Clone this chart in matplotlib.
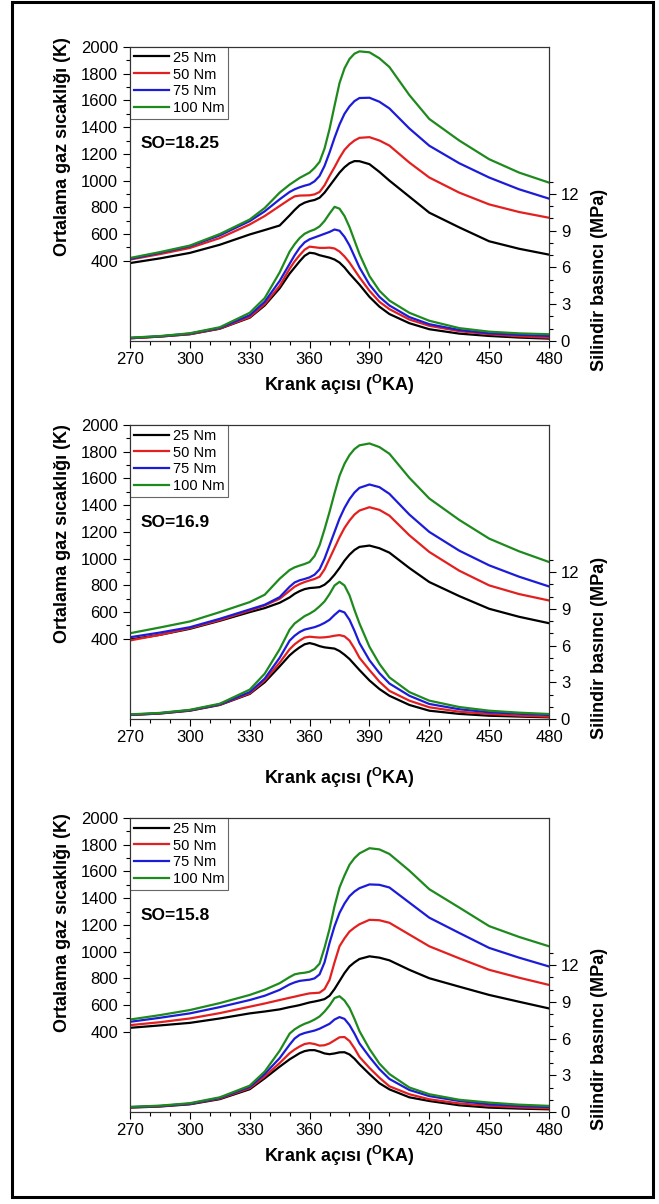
import matplotlib
matplotlib.use('Agg')
import matplotlib.pyplot as plt
from matplotlib.patches import Rectangle
from matplotlib.ticker import MultipleLocator, FixedLocator

plt.rcParams['font.family'] = ['Liberation Sans', 'DejaVu Sans']
plt.rcParams['mathtext.fontset'] = 'custom'
plt.rcParams['mathtext.rm'] = 'Liberation Sans'
plt.rcParams['mathtext.bf'] = 'Liberation Sans:bold'

# crank angle (deg KA)
crank = [270, 285, 300, 315, 330, 337.5, 345, 350, 352.5, 355, 357.5, 360,
         362.5, 365, 367.5, 370, 372.5, 375, 377.5, 380, 382.5, 385, 390,
         395, 400, 410, 420, 435, 450, 465, 480]

loads = ['25 Nm', '50 Nm', '75 Nm', '100 Nm']
so_labels = ['SO=18.25', 'SO=16.9', 'SO=15.8']

# mean gas temperature (K), one list per load: 25, 50, 75, 100 Nm
temp_1825 = [
    [383, 418, 459, 520, 597, 630, 664, 740, 780, 815, 835, 847, 855, 872, 910, 960, 1010, 1060, 1100, 1130, 1146, 1145, 1123, 1065, 1000, 880, 760, 650, 546, 490, 446],
    [409, 450, 496, 570, 672, 735, 810, 860, 882, 888, 889, 890, 897, 915, 965, 1035, 1100, 1170, 1230, 1270, 1300, 1320, 1325, 1300, 1262, 1135, 1023, 910, 822, 765, 722],
    [414, 460, 509, 590, 697, 770, 860, 915, 935, 950, 962, 972, 995, 1035, 1110, 1210, 1320, 1420, 1500, 1555, 1595, 1618, 1620, 1590, 1540, 1390, 1261, 1130, 1023, 935, 865],
    [421, 465, 514, 600, 709, 795, 910, 970, 995, 1020, 1040, 1060, 1095, 1140, 1240, 1386, 1560, 1730, 1840, 1910, 1950, 1967, 1960, 1915, 1850, 1640, 1461, 1300, 1160, 1060, 985],
]
temp_169 = [
    [395, 430, 475, 535, 600, 630, 670, 710, 737, 757, 772, 780, 783, 787, 805, 837, 880, 930, 985, 1030, 1065, 1088, 1098, 1078, 1045, 930, 825, 720, 625, 565, 517],
    [388, 430, 480, 540, 612, 650, 700, 760, 790, 810, 825, 837, 848, 865, 920, 1000, 1080, 1160, 1230, 1285, 1330, 1360, 1385, 1365, 1322, 1175, 1050, 910, 800, 735, 687],
    [412, 447, 487, 550, 620, 655, 712, 790, 822, 838, 848, 860, 880, 920, 1000, 1100, 1200, 1300, 1380, 1445, 1495, 1530, 1555, 1535, 1485, 1330, 1200, 1060, 950, 865, 792],
    [442, 485, 530, 600, 675, 730, 850, 915, 935, 948, 960, 975, 1020, 1100, 1220, 1350, 1490, 1620, 1710, 1775, 1820, 1848, 1862, 1835, 1785, 1605, 1450, 1290, 1150, 1055, 975],
]
temp_158 = [
    [430, 448, 467, 500, 538, 552, 568, 585, 592, 600, 610, 620, 627, 635, 645, 670, 720, 780, 840, 889, 920, 945, 965, 955, 935, 864, 801, 738, 676, 625, 575],
    [450, 472, 500, 540, 588, 612, 638, 655, 663, 672, 680, 688, 690, 693, 720, 789, 920, 1040, 1100, 1150, 1180, 1205, 1238, 1235, 1216, 1128, 1040, 950, 864, 805, 751],
    [475, 505, 538, 585, 638, 670, 714, 755, 770, 781, 786, 790, 800, 830, 920, 1065, 1190, 1290, 1360, 1415, 1450, 1475, 1503, 1500, 1480, 1367, 1254, 1140, 1028, 955, 889],
    [492, 525, 563, 615, 676, 715, 764, 810, 830, 838, 842, 850, 870, 910, 1030, 1170, 1340, 1480, 1570, 1650, 1700, 1735, 1774, 1765, 1731, 1606, 1467, 1330, 1191, 1110, 1040],
]

# cylinder pressure (MPa), one list per load: 25, 50, 75, 100 Nm
pres_1825 = [
    [0.22, 0.36, 0.55, 1.0, 1.9, 2.9, 4.3, 5.5, 6.0, 6.5, 6.95, 7.2, 7.15, 7.0, 6.9, 6.8, 6.65, 6.4, 6.0, 5.5, 5.05, 4.6, 3.6, 2.8, 2.2, 1.45, 0.96, 0.6, 0.41, 0.28, 0.19],
    [0.22, 0.36, 0.56, 1.02, 1.95, 3.0, 4.5, 5.9, 6.5, 7.0, 7.45, 7.7, 7.65, 7.6, 7.6, 7.62, 7.55, 7.3, 6.9, 6.4, 5.8, 5.2, 4.1, 3.2, 2.6, 1.75, 1.24, 0.8, 0.55, 0.38, 0.27],
    [0.25, 0.38, 0.6, 1.07, 2.1, 3.2, 4.9, 6.3, 7.0, 7.6, 8.05, 8.3, 8.45, 8.6, 8.75, 8.9, 9.1, 9.0, 8.5, 7.8, 6.9, 6.0, 4.6, 3.6, 2.9, 1.95, 1.37, 0.9, 0.63, 0.5, 0.41],
    [0.27, 0.4, 0.63, 1.12, 2.3, 3.5, 5.6, 7.3, 7.9, 8.4, 8.75, 8.95, 9.1, 9.35, 9.8, 10.4, 10.95, 10.8, 10.2, 9.3, 8.2, 7.1, 5.3, 4.1, 3.3, 2.3, 1.65, 1.05, 0.76, 0.62, 0.55],
]
pres_169 = [
    [0.33, 0.45, 0.68, 1.15, 2.05, 3.0, 4.3, 5.2, 5.55, 5.85, 6.1, 6.2, 6.1, 5.95, 5.85, 5.8, 5.75, 5.55, 5.25, 4.9, 4.45, 4.0, 3.15, 2.45, 1.9, 1.15, 0.68, 0.42, 0.27, 0.2, 0.14],
    [0.33, 0.46, 0.7, 1.17, 2.1, 3.15, 4.6, 5.7, 6.1, 6.4, 6.65, 6.72, 6.68, 6.65, 6.67, 6.72, 6.8, 6.85, 6.75, 6.4, 5.75, 5.0, 4.0, 3.05, 2.3, 1.5, 0.96, 0.6, 0.41, 0.28, 0.19],
    [0.35, 0.48, 0.72, 1.2, 2.2, 3.3, 5.0, 6.4, 6.8, 7.1, 7.3, 7.4, 7.5, 7.65, 7.85, 8.1, 8.5, 8.85, 8.7, 8.1, 7.2, 6.2, 4.8, 3.75, 2.9, 1.9, 1.23, 0.8, 0.55, 0.43, 0.33],
    [0.38, 0.5, 0.75, 1.25, 2.4, 3.7, 5.7, 7.3, 7.8, 8.1, 8.4, 8.6, 8.85, 9.2, 9.6, 10.2, 10.9, 11.2, 10.9, 10.1, 8.9, 7.8, 5.9, 4.5, 3.4, 2.2, 1.5, 0.98, 0.68, 0.52, 0.41],
]
pres_158 = [
    [0.36, 0.45, 0.63, 1.05, 1.86, 2.75, 3.7, 4.3, 4.55, 4.8, 4.97, 5.05, 5.05, 4.93, 4.78, 4.72, 4.78, 4.87, 4.88, 4.7, 4.35, 3.9, 3.1, 2.35, 1.85, 1.2, 0.9, 0.55, 0.36, 0.28, 0.22],
    [0.38, 0.47, 0.66, 1.1, 1.95, 2.9, 4.0, 4.8, 5.1, 5.35, 5.55, 5.62, 5.55, 5.42, 5.45, 5.6, 5.85, 6.1, 6.12, 5.8, 5.2, 4.5, 3.6, 2.8, 2.1, 1.45, 1.04, 0.7, 0.5, 0.38, 0.3],
    [0.4, 0.49, 0.68, 1.15, 2.05, 3.1, 4.4, 5.5, 6.0, 6.3, 6.45, 6.55, 6.65, 6.8, 7.0, 7.2, 7.55, 7.75, 7.6, 7.1, 6.4, 5.6, 4.5, 3.5, 2.7, 1.8, 1.3, 0.9, 0.63, 0.5, 0.41],
    [0.42, 0.52, 0.72, 1.2, 2.15, 3.3, 5.0, 6.4, 6.75, 7.0, 7.2, 7.35, 7.55, 7.8, 8.2, 8.7, 9.3, 9.45, 9.1, 8.5, 7.6, 6.6, 5.15, 3.95, 3.1, 2.0, 1.45, 1.0, 0.77, 0.6, 0.5],
]

temps = [temp_1825, temp_169, temp_158]
press = [pres_1825, pres_169, pres_158]

colors = ['black', '#e3201f', '#1c1cd8', '#1e8a1e']

# axes boxes and label placement per panel (figure / axes fractions)
boxes = [[0.1973, 0.7168, 0.6358, 0.2442],
         [0.1973, 0.4028, 0.6358, 0.2442],
         [0.1973, 0.0764, 0.6358, 0.2442]]
xlab_y = [-0.149, -0.20, -0.150]
ylab_left_y = [0.66, 0.63, 0.645]
ylab_right_y = [0.207, 0.243, 0.25]

fig = plt.figure(figsize=(6.59, 12.04), dpi=100)

for i in range(3):
    ax = fig.add_axes(boxes[i])
    ax2 = ax.twinx()

    for j in range(4):
        ax.plot(crank, temps[i][j], color=colors[j], lw=1.6, label=loads[j],
                solid_joinstyle='round')
        ax2.plot(crank, press[i][j], color=colors[j], lw=1.6,
                 solid_joinstyle='round')

    ax.set_xlim(270, 480)
    ax.set_ylim(-200, 2000)
    ax2.set_ylim(0, 24)

    ax.xaxis.set_major_locator(MultipleLocator(30))
    ax.xaxis.set_minor_locator(MultipleLocator(10))
    ax.yaxis.set_major_locator(FixedLocator(list(range(400, 2001, 200))))
    ax.yaxis.set_minor_locator(FixedLocator(list(range(500, 2000, 200))))
    ax2.yaxis.set_major_locator(FixedLocator([0, 3, 6, 9, 12]))
    ax2.yaxis.set_minor_locator(FixedLocator([1, 2, 4, 5, 7, 8, 10, 11, 13]))

    for a in (ax, ax2):
        a.tick_params(which='major', direction='out', length=5, width=0.8, labelsize=12)
        a.tick_params(which='minor', direction='out', length=3, width=0.8)
        for s in a.spines.values():
            s.set_linewidth(0.8)
            s.set_color('#333333')
    ax.tick_params(axis='x', which='both', top=False, pad=3)

    ax.set_xlabel(r'Krank açısı ($^{\mathbf{O}}$KA)', fontsize=13, fontweight='bold')
    ax.xaxis.set_label_coords(0.5, xlab_y[i])
    ax.xaxis.label.set_verticalalignment('center')

    ax.set_ylabel('Ortalama gaz sıcaklığı (K)', fontsize=13, fontweight='bold')
    ax.yaxis.set_label_coords(-0.162, ylab_left_y[i])
    ax.yaxis.label.set_verticalalignment('center')

    ax2.set_ylabel('Silindir basıncı (MPa)', fontsize=13, fontweight='bold')
    ax2.yaxis.set_label_coords(1.12, ylab_right_y[i])
    ax2.yaxis.label.set_verticalalignment('center')

    ax.text(0.024, 0.67, so_labels[i], transform=ax.transAxes, fontsize=12.5,
            fontweight='bold', va='center', ha='left')

    leg = ax.legend(loc='upper left', bbox_to_anchor=(0, 1), borderaxespad=0,
                    fontsize=10.5, handlelength=2.4, handletextpad=0.3,
                    labelspacing=0.2, borderpad=0.25, fancybox=False, framealpha=1)
    leg.get_frame().set_edgecolor('#666666')
    leg.get_frame().set_linewidth(0.8)

# outer frame round the whole figure
fig.add_artist(Rectangle((12 / 659, 1 - 1197 / 1204), 641 / 659, 1195 / 1204,
                         transform=fig.transFigure, fill=False, lw=2.2,
                         edgecolor='black'))

fig.savefig('out.png', dpi=100)
